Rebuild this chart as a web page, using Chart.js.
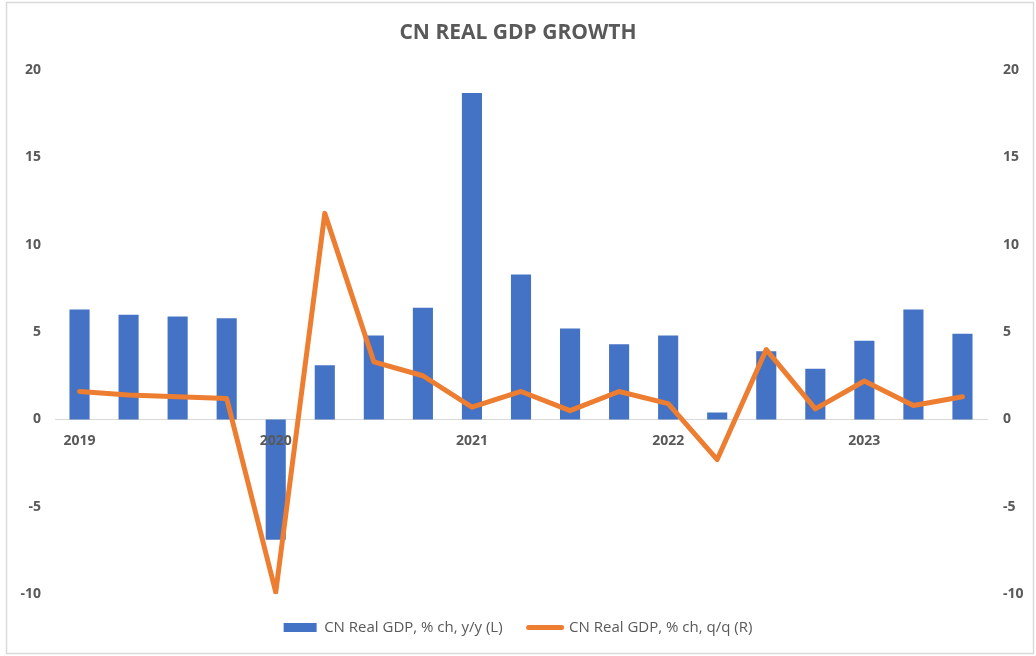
<!DOCTYPE html>
<html>
<head>
<meta charset="utf-8">
<title>CN Real GDP Growth</title>
<script src="https://cdn.jsdelivr.net/npm/chart.js@4.4.1/dist/chart.umd.min.js"></script>
<style>
  html, body { margin: 0; padding: 0; background: #ffffff; }
  #wrap { position: relative; width: 1036px; height: 656px; }
</style>
</head>
<body>
<div id="wrap"><canvas id="chart" width="1036" height="656"></canvas></div>
<script>
// Quarterly categories, 2019 Q1 – 2023 Q3
const quarters = [
  '2019 Q1', '2019 Q2', '2019 Q3', '2019 Q4',
  '2020 Q1', '2020 Q2', '2020 Q3', '2020 Q4',
  '2021 Q1', '2021 Q2', '2021 Q3', '2021 Q4',
  '2022 Q1', '2022 Q2', '2022 Q3', '2022 Q4',
  '2023 Q1', '2023 Q2', '2023 Q3'
];

// Real GDP, % change year over year (left axis)
const yoyGrowth = [6.3, 6.0, 5.9, 5.8, -6.9, 3.1, 4.8, 6.4, 18.7, 8.3, 5.2, 4.3, 4.8, 0.4, 3.9, 2.9, 4.5, 6.3, 4.9];

// Real GDP, % change quarter over quarter (right axis)
const qoqGrowth = [1.6, 1.4, 1.3, 1.2, -9.9, 11.8, 3.3, 2.5, 0.7, 1.6, 0.5, 1.6, 0.9, -2.3, 4.0, 0.6, 2.2, 0.8, 1.3];

// Value axis range shared by both sides
const axisMin = -10;
const axisMax = 20;
const axisStep = 5;

const seriesNames = ['CN Real GDP, % ch, y/y (L)', 'CN Real GDP, % ch, q/q (R)'];
const chartTitle = 'CN REAL GDP GROWTH';

const textColor = '#595959';
const barColor = '#4472C4';
const lineColor = '#ED7D31';
const fontFamily = '"Open Sans", "DejaVu Sans", sans-serif';

// Thin frame around the whole chart
const framePlugin = {
  id: 'frame',
  afterDraw(chart) {
    const ctx = chart.ctx;
    ctx.save();
    ctx.strokeStyle = '#D9D9D9';
    ctx.lineWidth = 1.5;
    ctx.strokeRect(6.5, 2.5, 1027, 651);
    ctx.restore();
  }
};

new Chart(document.getElementById('chart'), {
  type: 'bar',
  data: {
    labels: quarters,
    datasets: [
      {
        type: 'bar',
        label: seriesNames[0],
        data: yoyGrowth,
        backgroundColor: barColor,
        borderWidth: 0,
        yAxisID: 'y',
        order: 1,
        categoryPercentage: 1,
        barPercentage: 0.41
      },
      {
        type: 'line',
        label: seriesNames[1],
        data: qoqGrowth,
        borderColor: lineColor,
        backgroundColor: lineColor,
        borderWidth: 5,
        borderJoinStyle: 'round',
        borderCapStyle: 'round',
        pointRadius: 0,
        pointHoverRadius: 0,
        tension: 0,
        yAxisID: 'y1',
        order: 0
      }
    ]
  },
  options: {
    responsive: false,
    animation: false,
    devicePixelRatio: 1,
    layout: { padding: { left: 0, right: 0, top: 0, bottom: 11 } },
    plugins: {
      title: {
        display: true,
        text: chartTitle,
        color: textColor,
        font: { family: fontFamily, size: 21, weight: 'bold' },
        padding: { top: 20, bottom: 25 }
      },
      legend: {
        position: 'bottom',
        labels: {
          color: textColor,
          font: { family: fontFamily, size: 15 },
          usePointStyle: true,
          pointStyleWidth: 33,
          boxHeight: 9,
          padding: 26,
          sort: (a, b) => a.datasetIndex - b.datasetIndex,
          generateLabels(chart) {
            return chart.data.datasets.map((ds, i) => ({
              text: ds.label,
              datasetIndex: i,
              fillStyle: ds.type === 'line' ? lineColor : barColor,
              strokeStyle: ds.type === 'line' ? lineColor : barColor,
              lineWidth: ds.type === 'line' ? 5 : 0,
              lineCap: 'round',
              pointStyle: ds.type === 'line' ? 'line' : 'rect',
              fontColor: textColor,
              hidden: false
            }));
          }
        }
      },
      tooltip: { enabled: false }
    },
    scales: {
      x: {
        position: { y: 0 },
        offset: true,
        grid: { display: false, drawTicks: false },
        border: { display: true, color: '#D9D9D9', width: 1 },
        ticks: {
          z: 1,
          autoSkip: false,
          maxRotation: 0,
          padding: 13,
          color: textColor,
          font: { family: fontFamily, size: 14, weight: 'bold' },
          callback(value, index) {
            const q = quarters[index];
            return q.endsWith('Q1') ? q.slice(0, 4) : '';
          }
        },
        afterFit(scale) { scale.height = 0; }
      },
      y: {
        position: 'left',
        min: axisMin,
        max: axisMax,
        grid: { display: false, drawTicks: false },
        border: { display: false },
        ticks: {
          stepSize: axisStep,
          padding: 14,
          color: textColor,
          font: { family: fontFamily, size: 14, weight: 'bold' }
        },
        afterFit(scale) { scale.width = 55; }
      },
      y1: {
        position: 'right',
        min: axisMin,
        max: axisMax,
        grid: { display: false, drawTicks: false },
        border: { display: false },
        ticks: {
          stepSize: axisStep,
          padding: 16,
          color: textColor,
          font: { family: fontFamily, size: 14, weight: 'bold' }
        },
        afterFit(scale) { scale.width = 49; }
      }
    }
  },
  plugins: [framePlugin]
});
</script>
</body>
</html>
